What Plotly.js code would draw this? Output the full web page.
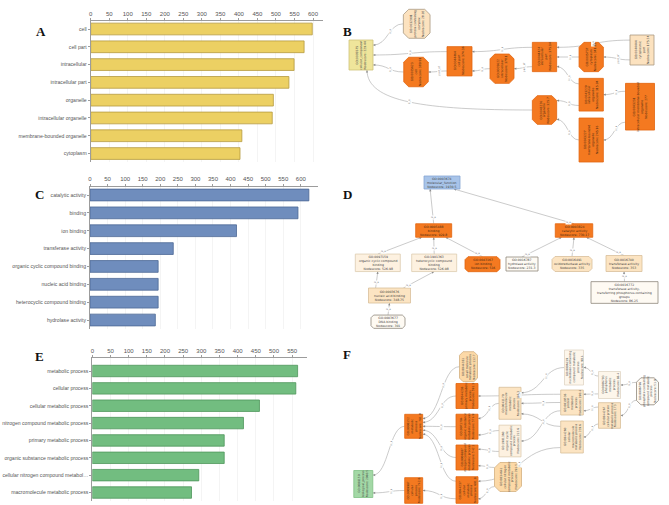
<!DOCTYPE html>
<html><head><meta charset="utf-8">
<script src="https://cdn.plot.ly/plotly-3.0.1.min.js"></script>
<style>html,body{margin:0;padding:0;background:#fff}#chart{width:669px;height:505px}</style>
</head><body><div id="chart"></div>
<script>
// ---------------- DATA ----------------
const ccTerms = ['cell','cell part','intracellular','intracellular part','organelle','intracellular organelle','membrane-bounded organelle','cytoplasm'];
const ccCounts = [598,576,549,535,493,490,408,403];
const mfTerms = ['catalytic activity','binding','ion binding','transferase activity','organic cyclic compound binding','nucleic acid binding','heterocyclic compound binding','hydrolase activity'];
const mfCounts = [623,592,417,237,194,194,194,186];
const bpTerms = ['metabolic process','cellular process','cellular metabolic process','nitrogen compound metabolic process','primary metabolic process','organic substance metabolic process','cellular nitrogen compound metabol\u2026','macromolecule metabolic process'];
const bpCounts = [565,560,460,416,363,363,293,273];
const countTicks = [0,50,100,150,200,250,300,350,400,450,500,550,600];
const panelLetters = ['A','B','C','D','E','F'];

// GO graph B (cellular component)
const bIds    = ['GO:0005575','GO:0032991','GO:0005623','GO:0044464','GO:0005622','GO:0044424','GO:0005737','GO:0044444','GO:0043229','GO:0043226','GO:0043231','GO:0043227'];
const bNames  = ['cellular_component','protein-containing\ncomplex','cell','cell part','intracellular','intracellular\npart','cytoplasm','cytoplasmic\npart','intracellular\norganelle','organelle','intracellular membrane-bounded\norganelle','membrane-bounded\norganelle'];
const bScores = ['229.44','28.92','389.91','374.36','378.1','375.14','341.95','175.24','315.94','325.7','277','245.16'];
const bEdges  = [['GO:0032991','GO:0005575','is_a'],['GO:0044464','GO:0005575','is_a'],['GO:0005623','GO:0005575','is_a'],['GO:0043226','GO:0005575','is_a','b'],
  ['GO:0044464','GO:0005623','part_of'],['GO:0005622','GO:0044464','is_a'],['GO:0044424','GO:0044464','is_a'],['GO:0044424','GO:0005622','part_of'],
  ['GO:0005737','GO:0044424','is_a'],['GO:0044444','GO:0044424','is_a'],['GO:0044444','GO:0005737','part_of'],['GO:0043229','GO:0044424','is_a'],
  ['GO:0043231','GO:0043229','is_a'],['GO:0043229','GO:0043226','is_a'],['GO:0043227','GO:0043226','is_a'],['GO:0043231','GO:0043227','is_a']];

// GO graph D (molecular function)
const dIds    = ['GO:0003674','GO:0005488','GO:0003824','GO:0097159','GO:1901363','GO:0043167','GO:0016787','GO:0016491','GO:0016740','GO:0003676','GO:0016772','GO:0003677'];
const dNames  = ['molecular_function','binding','catalytic activity','organic cyclic compound\nbinding','heterocyclic compound\nbinding','ion binding','hydrolase activity','oxidoreductase activity','transferase activity','nucleic acid binding','transferase activity,\ntransferring phosphorus-containing\ngroups','DNA binding'];
const dScores = ['1930.5','929.8','730.17','526.98','526.98','516','231.3','335','353','348.75','86.25','301'];
const dEdges  = [['GO:0005488','GO:0003674','is_a'],['GO:0003824','GO:0003674','is_a'],['GO:0097159','GO:0005488','is_a'],['GO:1901363','GO:0005488','is_a'],
  ['GO:0043167','GO:0005488','is_a'],['GO:0016787','GO:0003824','is_a'],['GO:0016491','GO:0003824','is_a'],['GO:0016740','GO:0003824','is_a'],
  ['GO:0003676','GO:0097159','is_a'],['GO:0003676','GO:1901363','is_a'],['GO:0016772','GO:0016740','is_a'],['GO:0003677','GO:0003676','is_a']];

// GO graph F (biological process)
const fIds    = ['GO:0008150','GO:0008152','GO:0009987','GO:0044281','GO:0044238','GO:0071704','GO:0006807','GO:0044237','GO:0043170','GO:1901360','GO:0034641','GO:0006139','GO:0019538','GO:0044260','GO:0006793','GO:0044267','GO:0006796'];
const fNames  = ['biological_process','metabolic\nprocess','cellular\nprocess','small molecule\nmetabolic process','primary metabolic\nprocess','organic substance\nmetabolic process','nitrogen compound\nmetabolic process','cellular\nmetabolic\nprocess','macromolecule\nmetabolic\nprocess','organic cyclic\ncompound metabolic\nprocess','cellular nitrogen\ncompound metabolic\nprocess','nucleobase-containing\ncompound metabolic\nprocess','protein\nmetabolic\nprocess','cellular\nmacromolecule\nmetabolic process','phosphorus\nmetabolic\nprocess','cellular protein\nmetabolic process','phosphate-containing\ncompound metabolic\nprocess'];
const fScores = ['2060.5','781.9','742.6','112.7','591.3','574.9','542.1','601.8','346.3','212.6','291.5','90.4','190.4','229.6','88.4','173','51.9'];
const fEdges  = [['GO:0008152','GO:0008150','is_a'],['GO:0009987','GO:0008150','is_a'],
  ['GO:0044281','GO:0008152','is_a'],['GO:0044238','GO:0008152','is_a'],['GO:0071704','GO:0008152','is_a'],['GO:0006807','GO:0008152','is_a'],['GO:0044237','GO:0008152','is_a'],['GO:0044237','GO:0009987','is_a'],
  ['GO:0019538','GO:0044238','is_a'],['GO:0043170','GO:0071704','is_a'],['GO:1901360','GO:0071704','is_a'],['GO:1901360','GO:0006807','is_a'],['GO:0034641','GO:0006807','is_a'],['GO:0034641','GO:0044237','is_a'],['GO:0044260','GO:0044237','is_a'],
  ['GO:0006139','GO:0043170','is_a'],['GO:0019538','GO:0043170','is_a'],['GO:0044260','GO:0043170','is_a'],['GO:0019538','GO:1901360','is_a'],
  ['GO:0006793','GO:0019538','is_a'],['GO:0044267','GO:0019538','is_a'],['GO:0006793','GO:0006139','is_a'],['GO:0044267','GO:0044260','is_a'],
  ['GO:0006796','GO:0006793','is_a'],['GO:0006796','GO:0044267','is_a']];

// ---------------- GRAPH LAYOUT / STYLE (page pixels) ----------------
const bLayout = {x:[361,416.7,416,459.5,502,544.5,591.2,642,591.2,544.5,640,591.2], y:[55,23.8,72,61.3,68.7,57,57,50,94.7,110,106.7,140],
  w:[24,26.7,24.5,25,24,24.3,24.3,24,24.3,24.3,29,24.3], h:[30,29,29.5,29.3,29.3,29.3,29.3,30,32.7,28.7,46.7,44],
  shape:['r','o','o','r','o','r','o','r','r','o','r','r'], style:['cc','p2d','O','O','O','O','O','p2d','O','O','O','O']};
const dLayout = {x:[442,433.7,574,377.8,434.2,482.5,522,572,624,389.5,624.5,388], y:[182.5,230.5,230.5,262.8,262.8,264.2,264,264,263.5,295.5,292.5,321.7],
  w:[36,36,37.5,45,45,35,32,40,36,42,67,34], h:[13,13.5,13.5,17.5,17.5,15,14,15,16,15,21.7,13.3],
  shape:['r','r','r','r','r','o','r','o','r','r','r','o'], style:['mf','O','O','p3','p3','O','w','p2','p2','p2','w','w']};
const fLayout = {x:[363.3,413.7,413.7,468.5,467,467,467,467,510,510,508,574,572,572,609.5,609.5,647.5], y:[484,426.3,490.5,366.7,396,426.7,457.5,490,403.3,441,477,367.5,402.5,437,385,415.5,391.3],
  w:[19,18,18,18,22,22,22,22,22,22,27,19,22.6,22.6,22,22,22], h:[27,24,25.6,30,25,25,25,26.6,32,31.7,29,35,25,32,27,25.6,27],
  shape:['r','r','r','o','r','r','r','r','r','r','o','r','r','r','r','r','o'], style:['bp','O','O','p1','O','O','O','O','p2','p3','p1','p4','p2','p2','p4','p2','w']};
const palette = {O:['#f47920','#e2660f'], cc:['#efe59b','#cfc379'], mf:['#a8c4e9','#86a6d3'], bp:['#a3d8a6','#7fc084'],
  p1:['#fcd9a7','#d3b07f'], p2:['#fce4c2','#d8bf9a'], p2d:['#fce2bf','#a99a83'], p3:['#fdf1e0','#ddcbb0'], p4:['#fdf6eb','#e0d6c5'], w:['#fefaf3','#8f887c']};

const W = 669, H = 505;
const shapesEdges = [], shapesNodes = [], annotations = [];
const axisFont = 'Liberation Sans, Arial, sans-serif';

function bez(p0,p1,p2,p3,t){const u=1-t;return [u*u*u*p0[0]+3*u*u*t*p1[0]+3*u*t*t*p2[0]+t*t*t*p3[0], u*u*u*p0[1]+3*u*u*t*p1[1]+3*u*t*t*p2[1]+t*t*t*p3[1]];}

function addGraph(ids, names, scores, edges, L, orient, fs){
  const idx = {}; ids.forEach((id,i)=>idx[id]=i);
  const N = ids.length;
  const E = edges.map(e=>({c:idx[e[0]], p:idx[e[1]], rel:e[2], port:e[3]||''}));
  const outL = Array.from({length:N},()=>[]), inL = Array.from({length:N},()=>[]);
  E.forEach((e,k)=>{ if(e.port!=='b') outL[e.p].push(k); inL[e.c].push(k); });
  const cross = i => orient==='h' ? L.y[i] : L.x[i];
  function dist(list,node,other,key){
    list.sort((a,b)=>cross(E[a][other])-cross(E[b][other]));
    const size = orient==='h'? L.h[node] : L.w[node];
    const c = cross(node), k=list.length;
    list.forEach((ei,j)=>{E[ei][key] = k===1 ? c : c-0.33*size+0.66*size*j/(k-1);});
  }
  for(let i=0;i<N;i++){ dist(outL[i],i,'c','pv'); dist(inL[i],i,'p','cv'); }
  const lc = '#a8a8a8', ac = '#8a8a8a';
  E.forEach(e=>{
    let C,P,c1,c2,lab,tipFrom;
    if(orient==='h'){
      C=[L.x[e.c]-L.w[e.c]/2, e.cv];
      if(e.port==='b'){
        P=[L.x[e.p]+L.w[e.p]*0.25, L.y[e.p]+L.h[e.p]/2];
        c1=[P[0]+(C[0]-P[0])*0.35, C[1]]; c2=[P[0], P[1]+(C[1]-P[1])*0.8];
      } else {
        P=[L.x[e.p]+L.w[e.p]/2, e.pv];
        const d=(C[0]-P[0])*0.5; c1=[C[0]-d,C[1]]; c2=[P[0]+d,P[1]];
      }
      const span=C[0]-P[0];
      lab = bez(C,c1,c2,P, span>60?0.5:0.4);
      tipFrom = c2;
      shapesEdges.push({type:'path', xref:'x4', yref:'y4', path:`M${C[0]},${C[1]} C${c1[0]},${c1[1]} ${c2[0]},${c2[1]} ${P[0]},${P[1]}`, line:{color:lc,width:0.6}, layer:'above'});
    } else {
      C=[e.cv, L.y[e.c]-L.h[e.c]/2]; P=[e.pv, L.y[e.p]+L.h[e.p]/2];
      const len=Math.hypot(P[0]-C[0],P[1]-C[1]); const t=Math.min(0.5,6/len);
      lab=[C[0]+(P[0]-C[0])*t, C[1]+(P[1]-C[1])*t];
      tipFrom = C;
      shapesEdges.push({type:'path', xref:'x4', yref:'y4', path:`M${C[0]},${C[1]} L${P[0]},${P[1]}`, line:{color:lc,width:0.6}, layer:'above'});
    }
    let dx=P[0]-tipFrom[0], dy=P[1]-tipFrom[1]; const dl=Math.hypot(dx,dy)||1; dx/=dl; dy/=dl;
    const al=2.4, aw=1.1;
    const bx=P[0]-dx*al, by=P[1]-dy*al;
    shapesEdges.push({type:'path', xref:'x4', yref:'y4', path:`M${P[0]},${P[1]} L${bx-dy*aw},${by+dx*aw} L${bx+dy*aw},${by-dx*aw} Z`, fillcolor:ac, line:{width:0}, layer:'above'});
    annotations.push({x:lab[0], y:lab[1], xref:'x4', yref:'y4', text:e.rel, showarrow:false, textangle: orient==='h'?-90:0,
      font:{family:'DejaVu Sans, sans-serif', size:2.6, color:'#777'}, bgcolor:'#ffffff', borderpad:0});
  });
  for(let i=0;i<N;i++){
    const [fill,line]=palette[L.style[i]];
    const cx=L.x[i], cy=L.y[i], a=L.w[i]/2, b=L.h[i]/2;
    if(L.shape[i]==='r'){
      shapesNodes.push({type:'rect', xref:'x4', yref:'y4', x0:cx-a, x1:cx+a, y0:cy-b, y1:cy+b, fillcolor:fill, line:{color:line,width:0.8}, layer:'above'});
    } else {
      const c=Math.min(a,b)*0.4;
      const p=`M${cx-a+c},${cy-b} L${cx+a-c},${cy-b} L${cx+a},${cy-b+c} L${cx+a},${cy+b-c} L${cx+a-c},${cy+b} L${cx-a+c},${cy+b} L${cx-a},${cy+b-c} L${cx-a},${cy-b+c} Z`;
      shapesNodes.push({type:'path', xref:'x4', yref:'y4', path:p, fillcolor:fill, line:{color:line,width:0.8}, layer:'above'});
    }
    annotations.push({x:cx, y:cy, xref:'x4', yref:'y4', showarrow:false, textangle: orient==='h'?-90:0,
      text: ids[i]+'<br>'+names[i].replace(/\n/g,'<br>')+'<br>Nodescore: '+scores[i],
      font:{family:'DejaVu Sans, sans-serif', size:fs, color: L.style[i]==='O' ? '#4a2a10' : '#444'}, align:'center'});
  }
}

addGraph(bIds,bNames,bScores,bEdges,bLayout,'h',3.0);
addGraph(dIds,dNames,dScores,dEdges,dLayout,'v',3.1);
addGraph(fIds,fNames,fScores,fEdges,fLayout,'h',2.9);

// ---------------- BAR CHARTS ----------------
const layout = {width:W, height:H, margin:{l:0,r:0,t:0,b:0}, paper_bgcolor:'#ffffff', plot_bgcolor:'rgba(0,0,0,0)', showlegend:false,
  shapes: shapesEdges.concat(shapesNodes), annotations: annotations};

function barAxes(suffix, x0, x1, T, c0, s, xmax){
  const bottom = c0 + 7*s + s/2;
  const yTop = -(c0-T)/s, yBot = yTop + (bottom-T)/s;
  layout['xaxis'+suffix] = {domain:[x0/W, x1/W], range:[0,xmax], side:'top', anchor:'y'+suffix, showline:true, linecolor:'#9c9c9c', linewidth:1,
    ticks:'outside', ticklen:2, tickcolor:'#9c9c9c', tickvals:countTicks, showgrid:true, gridcolor:'#ececec', gridwidth:0.6, zeroline:false,
    tickfont:{family:axisFont, size:6, color:'#555'}, fixedrange:true};
  layout['yaxis'+suffix] = {domain:[1-bottom/H, 1-T/H], range:[yBot, yTop], type:'category', anchor:'x'+suffix, showline:true, linecolor:'#9c9c9c', linewidth:1,
    ticks:'outside', ticklen:2, tickcolor:'#9c9c9c', showgrid:false, zeroline:false, tickfont:{family:axisFont, size:5.1, color:'#555'}, fixedrange:true};
}
barAxes('', 90.7, 323, 21, 29, 17.79, 627);
barAxes('2', 90, 318, 186.7, 195, 17.86, 649);
barAxes('3', 92.3, 306.7, 358.3, 371, 17.36, 590);
layout.xaxis4 = {domain:[0,1], range:[0,W], visible:false, anchor:'y4', fixedrange:true};
layout.yaxis4 = {domain:[0,1], range:[H,0], visible:false, anchor:'x4', fixedrange:true};

const letterPos = [[34,22],[347,22],[33,194],[347,194],[33,366],[347,364]];
panelLetters.forEach((t,i)=>annotations.push({xref:'paper', yref:'paper', x:letterPos[i][0]/W, y:1-letterPos[i][1]/H, text:'<b>'+t+'</b>', showarrow:false,
  font:{family:'Liberation Serif, Times New Roman, serif', size:13, color:'#111'}}));

const traces = [
  {type:'bar', orientation:'h', x:ccCounts, y:ccTerms, xaxis:'x', yaxis:'y', width:0.66, marker:{color:'#ecd063', line:{color:'#b59b40', width:0.8}}, hoverinfo:'skip'},
  {type:'bar', orientation:'h', x:mfCounts, y:mfTerms, xaxis:'x2', yaxis:'y2', width:0.66, marker:{color:'#6f8dbd', line:{color:'#4c6895', width:0.8}}, hoverinfo:'skip'},
  {type:'bar', orientation:'h', x:bpCounts, y:bpTerms, xaxis:'x3', yaxis:'y3', width:0.66, marker:{color:'#72bd80', line:{color:'#4e955b', width:0.8}}, hoverinfo:'skip'},
  {type:'scatter', x:[], y:[], xaxis:'x4', yaxis:'y4', hoverinfo:'skip'}
];
Plotly.newPlot('chart', traces, layout, {displayModeBar:false, staticPlot:true});
</script></body></html>
